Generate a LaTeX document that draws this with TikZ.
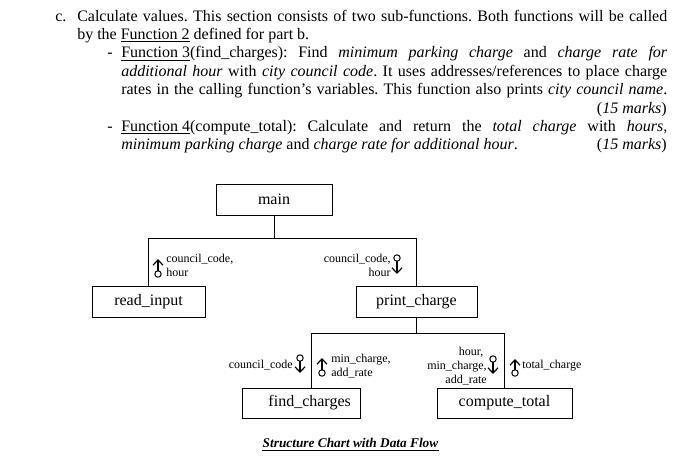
\documentclass[tikz,border=0pt]{standalone}
\usepackage{fontspec}
\setmainfont{Liberation Serif}
\usetikzlibrary{arrows.meta}
\frenchspacing
\begin{document}
\begin{tikzpicture}[x=0.75pt,y=-0.75pt,
  box/.style={draw,line width=0.75pt,inner sep=0pt,minimum height=23.25pt,font=\fontsize{12}{14}\selectfont},
  link/.style={line width=0.75pt},
  couple/.style={line width=0.9pt,-{Straight Barb[length=4pt,width=7.5pt,line width=0.9pt]}},
  cring/.style={line width=0.75pt},
  lbl/.style={inner sep=0pt,font=\fontsize{9}{10.5}\selectfont},
  txt/.style={inner sep=0pt,anchor=base west,font=\fontsize{12}{13.8}\selectfont},
]
\useasboundingbox (0,0) rectangle (697,465);

% ---- text block ----
\node[txt] (c) at (55,21) {c.};
\node[txt] (l1) at (77,21) {\makebox[442.5pt][s]{Calculate values. This section consists of two sub-functions. Both functions will be called}};
\node[txt] (l2) at (77,39.4) {by the \underline{Function 2} defined for part b.};
\node[txt] (d1) at (107,57.8) {-};
\node[txt] (l3) at (121,57.8) {\makebox[409.5pt][s]{\underline{Function 3}(find\_charges): Find \textit{minimum parking charge} and \textit{charge rate for}}};
\node[txt] (l4) at (121,76.2) {\makebox[409.5pt][s]{\textit{additional hour} with \textit{city council code}. It uses addresses/references to place charge}};
\node[txt] (l5) at (121,94.6) {\makebox[409.5pt][s]{rates in the calling function’s variables. This function also prints \textit{city council name}.}};
\node[txt,anchor=base east] (m1) at (667,113) {(\textit{15 marks})};
\node[txt] (d2) at (107,131.4) {-};
\node[txt] (l7) at (121,131.4) {\makebox[409.5pt][s]{\underline{Function 4}(compute\_total): Calculate and return the \textit{total charge} with \textit{hours},}};
\node[txt] (l8) at (121,149.8) {\textit{minimum parking charge} and \textit{charge rate for additional hour}.};
\node[txt,anchor=base east] (m2) at (667,149.8) {(\textit{15 marks})};

% ---- modules ----
\node[box,minimum width=87pt] (main) at (274,199.5) {main};
\node[box,minimum width=84.75pt] (readinput) at (148.5,301.5) {read\_input};
\node[box,minimum width=90.75pt] (printcharge) at (416.5,302) {print\_charge};
\node[box,minimum width=88.5pt,minimum height=22.5pt] (findcharges) at (301,403) {\hspace*{13pt}find\_charges};
\node[box,minimum width=101.25pt,minimum height=22.5pt] (computetotal) at (504.5,403) {compute\_total};

% ---- connectors ----
\coordinate (j1) at (274,238);
\draw[link] (main.south) -- (j1) -| (readinput.north);
\draw[link] (j1) -| (printcharge.north);
\coordinate (j2) at (416.5,333);
\coordinate (fcTop) at (311,333);
\draw[link] (printcharge.south) -- (j2) -- (fcTop) -- (fcTop |- findcharges.north);
\draw[link] (j2) -| (computetotal.north);

% ---- data couples ----
% A: up, read_input -> main
\coordinate (aO) at (158,274); \coordinate (aT) at (158,259);
\draw[cring] (aO) circle (2.4pt);
\draw[couple] ([yshift=2.4pt]aO) -- (aT);
% B: down, main -> print_charge
\coordinate (bO) at (397,258); \coordinate (bT) at (397,274);
\draw[cring] (bO) circle (2.4pt);
\draw[couple] ([yshift=-2.4pt]bO) -- (bT);
% C: down, print_charge -> find_charges
\coordinate (cO) at (300,358); \coordinate (cT) at (300,373);
\draw[cring] (cO) circle (2.4pt);
\draw[couple] ([yshift=-2.4pt]cO) -- (cT);
% D: up, find_charges -> print_charge
\coordinate (dO) at (322,373); \coordinate (dT) at (322,358);
\draw[cring] (dO) circle (2.4pt);
\draw[couple] ([yshift=2.4pt]dO) -- (dT);
% E: down, print_charge -> compute_total
\coordinate (eO) at (493,359); \coordinate (eT) at (493,374);
\draw[cring] (eO) circle (2.4pt);
\draw[couple] ([yshift=-2.4pt]eO) -- (eT);
% F: up, compute_total -> print_charge
\coordinate (fO) at (515,373); \coordinate (fT) at (515,359);
\draw[cring] (fO) circle (2.4pt);
\draw[couple] ([yshift=2.4pt]fO) -- (fT);

% ---- couple labels ----
\node[lbl,anchor=west,align=left] (la) at (166,265) {council\_code,\\hour};
\node[lbl,anchor=east,align=right] (lb) at (391,265.5) {council\_code,\\hour};
\node[lbl,anchor=east] (lc) at (293,365) {council\_code};
\node[lbl,anchor=west,align=left] (ld) at (331,366) {min\_charge,\\add\_rate};
\node[lbl,anchor=east,align=right] (le) at (487,366) {hour,\hspace*{2.5pt}\\min\_charge,\\add\_rate};
\node[lbl,anchor=west] (lf) at (522,366) {total\_charge};

% ---- caption ----
\node[inner sep=0pt,anchor=base,font=\fontsize{10}{12}\selectfont\bfseries\itshape] (cap) at (350.5,447) {Structure Chart with Data Flow};
\draw[line width=1.1pt] ([yshift=-2.6pt]cap.base west) -- ([yshift=-2.6pt]cap.base east);
\end{tikzpicture}
\end{document}
